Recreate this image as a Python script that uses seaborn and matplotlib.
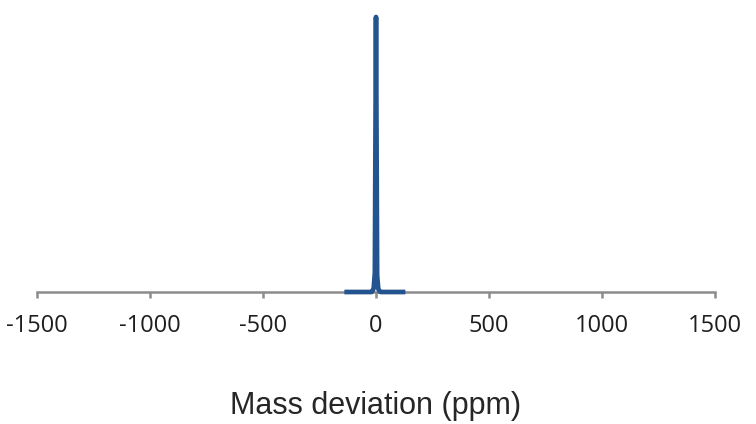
import matplotlib
matplotlib.use("Agg")
import matplotlib.pyplot as plt
import pandas as pd
import seaborn as sns

# Mass deviation distribution (ppm) and relative frequency
deviation_ppm = [-140, -120, -100, -80, -60, -40, -20, -15, -10, -5, 0,
                 5, 10, 15, 20, 40, 60, 80, 100, 120, 130]
frequency = [0, 0, 0, 0, 0, 0, 0, 0.004, 0.015, 0.07, 1.0,
             0.06, 0.012, 0.003, 0, 0, 0, 0, 0, 0, 0]
tick_values = [-1500, -1000, -500, 0, 500, 1000, 1500]
tick_labels = ["-1500", "-1000", "-500", "0", "500", "1000", "1500"]

df = pd.DataFrame({"deviation": deviation_ppm, "frequency": frequency})

sns.set_style("white")
plt.rcParams["font.family"] = ["Open Sans", "DejaVu Sans"]

fig = plt.figure(figsize=(7.56, 4.24), dpi=100)
ax = fig.add_axes([37 / 756, 1 - 292 / 424, (715 - 37) / 756, (292 - 17) / 424])

sns.lineplot(data=df, x="deviation", y="frequency", ax=ax,
             color="#24548f", linewidth=3.4, solid_capstyle="butt",
             solid_joinstyle="round", clip_on=False, zorder=3)

ax.set_xlim(-1500, 1500)
ax.set_ylim(0, 1.0)
ax.set_yticks([])
ax.set_ylabel("")

for side in ("left", "right", "top"):
    ax.spines[side].set_visible(False)
ax.spines["bottom"].set_color("#8c8c8c")
ax.spines["bottom"].set_linewidth(1.8)
ax.spines["bottom"].set_zorder(2)

ax.set_xticks(tick_values)
ax.set_xticklabels(tick_labels)
ax.tick_params(axis="x", bottom=True, direction="out", length=4, width=1.8,
               colors="#8c8c8c", labelcolor="#1e1e1e", labelsize=17, pad=12)

ax.set_xlabel("Mass deviation (ppm)", fontsize=22, color="#262626",
              family=["Liberation Sans", "DejaVu Sans"], labelpad=38)

fig.savefig("out.png", dpi=100)
